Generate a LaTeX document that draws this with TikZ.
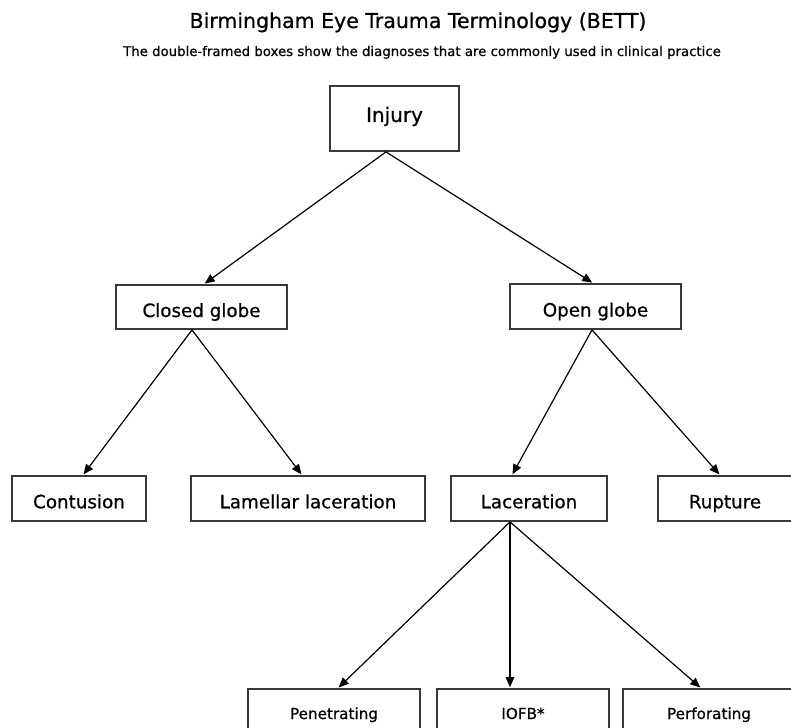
\documentclass[tikz,border=0pt]{standalone}
\usepackage{fontspec}
\setmainfont{DejaVu Sans}[RawFeature={embolden=0.7}]
\usetikzlibrary{arrows.meta}
\tikzset{
  box/.style={draw=black!78, line width=1.8pt, fill=white, inner sep=0pt, align=center, text=black},
  big/.style={font=\fontsize{20}{24}\selectfont, text height=15pt, text depth=8pt},
  mid/.style={font=\fontsize{18.3}{22}\selectfont, text height=20pt, text depth=0pt},
  low/.style={font=\fontsize{18.3}{22}\selectfont, text height=19.5pt, text depth=0pt},
  small/.style={font=\fontsize{15.2}{18}\selectfont, text height=14pt, text depth=0pt},
  conn/.style={draw=black, line width=1.2pt, -{Triangle[length=10pt,width=8.5pt]}, shorten >=0.9pt}
}
\begin{document}
\begin{tikzpicture}[x=1pt,y=-1pt]
\useasboundingbox (0,0) rectangle (791,727);
\clip (0,0) rectangle (791,727);
\fill[white] (0,0) rectangle (791,727);

\node[anchor=base, font=\fontsize{20.5}{24}\selectfont] (title) at (418,28) {Birmingham Eye Trauma Terminology (BETT)};
\node[anchor=base, font=\fontsize{13.3}{16}\selectfont] (sub) at (422,56) {The double-framed boxes show the diagnoses that are commonly used in clinical practice};

\node[box, big, minimum width=129pt, minimum height=65pt] (injury) at (394.5,118.5) {Injury};
\node[box, mid, minimum width=171pt, minimum height=44pt] (closed) at (201.5,307) {Closed globe};
\node[box, mid, minimum width=171pt, minimum height=45pt] (open) at (595.5,306.5) {Open globe};
\node[box, low, minimum width=134pt, minimum height=45pt] (cont) at (79,498.5) {Contusion};
\node[box, low, minimum width=234pt, minimum height=45pt] (lam) at (308,498.5) {Lamellar laceration};
\node[box, low, minimum width=156pt, minimum height=45pt] (lac) at (529,498.5) {Laceration};
\node[box, low, minimum width=134pt, minimum height=45pt] (rup) at (725,498.5) {Rupture};
\node[box, small, minimum width=172pt, minimum height=46pt] (pen) at (334,712) {Penetrating};
\node[box, small, minimum width=172pt, minimum height=46pt] (iofb) at (523,712) {IOFB*};
\node[box, small, minimum width=172pt, minimum height=46pt] (perf) at (709,712) {Perforating};

\coordinate (j0) at ([xshift=-8.5pt]injury.south);
\coordinate (j1) at ([xshift=-9.5pt]closed.south);
\coordinate (j2) at ([xshift=-3.5pt]open.south);
\coordinate (j3) at ([xshift=-19pt]lac.south);

\draw[conn] (j0) -- ([xshift=2.5pt]closed.north);
\draw[conn] (j0) -- ([xshift=-2.5pt]open.north);
\draw[conn] (j1) -- ([xshift=4pt]cont.north);
\draw[conn] (j1) -- ([xshift=-6pt]lam.north);
\draw[conn] (j2) -- ([xshift=-17pt]lac.north);
\draw[conn] (j2) -- ([xshift=-5pt]rup.north);
\draw[conn] (j3) -- ([xshift=4pt]pen.north);
\draw[conn] (j3) -- (iofb.north -| j3);
\draw[conn] (j3) -- ([xshift=-8pt]perf.north);
\end{tikzpicture}
\end{document}
